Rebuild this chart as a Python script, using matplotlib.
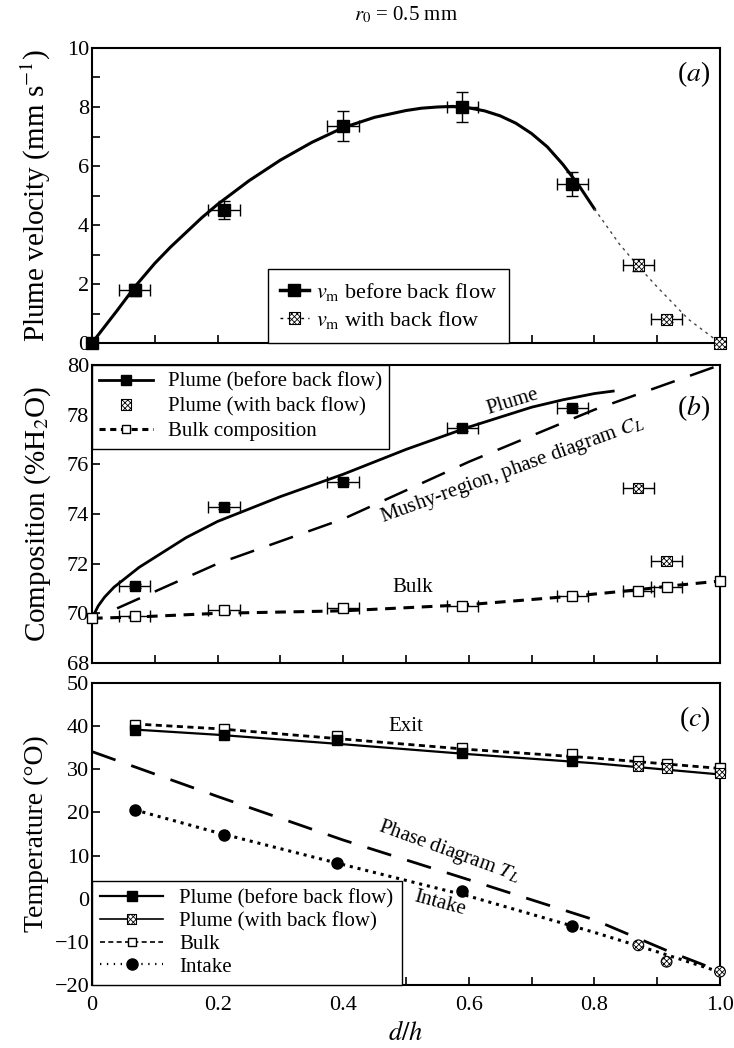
import matplotlib
matplotlib.use('Agg')
import matplotlib.pyplot as plt
from matplotlib.lines import Line2D
from matplotlib.ticker import MultipleLocator
from matplotlib.legend_handler import HandlerTuple

plt.rcParams['font.family'] = 'serif'
plt.rcParams['font.serif'] = ['Liberation Serif', 'DejaVu Serif']
plt.rcParams['mathtext.fontset'] = 'stix'
plt.rcParams['hatch.linewidth'] = 0.6
plt.rcParams['axes.linewidth'] = 1.5

# ---- (a) plume velocity ----
va_x = [0.0, 0.068, 0.21, 0.40, 0.59, 0.765]
va_y = [0.0, 1.8, 4.5, 7.35, 8.0, 5.4]
va_yerr = [0.0, 0.2, 0.3, 0.5, 0.5, 0.4]
va_xerr = [0.0, 0.025, 0.025, 0.025, 0.025, 0.025]
vb_x = [0.87, 0.915, 1.0]
vb_y = [2.65, 0.8, 0.0]
vb_yerr = [0.2, 0.1, 0.0]
vb_xerr = [0.025, 0.025, 0.0]
fit_a_x = [0, 0.02, 0.04, 0.07, 0.1, 0.125, 0.15, 0.175, 0.2, 0.25, 0.3,
           0.35, 0.4, 0.45, 0.5, 0.525, 0.55, 0.575, 0.6, 0.625, 0.65, 0.675,
           0.7, 0.725, 0.75, 0.775, 0.8]
fit_a_y = [0, 0.55, 1.1, 1.95, 2.7, 3.25, 3.75, 4.25, 4.7, 5.5, 6.2,
           6.8, 7.3, 7.65, 7.88, 7.96, 8.0, 8.02, 7.97, 7.87, 7.7, 7.45,
           7.1, 6.65, 6.05, 5.35, 4.55]
fit_a2_x = [0.8, 0.84, 0.87, 0.9, 0.95, 1.0]
fit_a2_y = [4.55, 3.35, 2.6, 1.9, 0.8, 0.0]

# ---- (b) composition ----
cp_x = [0.068, 0.21, 0.40, 0.59, 0.765]
cp_y = [71.1, 74.3, 75.3, 77.45, 78.25]
cpb_x = [0.87, 0.915]
cpb_y = [75.05, 72.1]
cbulk_x = [0.0, 0.068, 0.21, 0.40, 0.59, 0.765, 0.87, 0.915, 1.0]
cbulk_y = [69.82, 69.9, 70.12, 70.2, 70.28, 70.68, 70.9, 71.07, 71.3]
plume_fit_x = [0, 0.01, 0.02, 0.035, 0.05, 0.075, 0.1, 0.15, 0.2, 0.3, 0.4,
               0.5, 0.6, 0.7, 0.75, 0.8, 0.83]
plume_fit_y = [69.8, 70.3, 70.65, 71.05, 71.35, 71.85, 72.25, 73.05, 73.7,
               74.7, 75.6, 76.6, 77.5, 78.3, 78.6, 78.85, 78.95]
mushy_x = [0.04, 0.2, 0.4, 0.6, 0.8, 1.0]
mushy_y = [70.2, 72.0, 73.8, 76.1, 78.2, 80.0]
bulk_fit_x = [0, 0.07, 0.2, 0.4, 0.6, 0.77, 0.87, 0.92, 1.0]
bulk_fit_y = [69.8, 69.85, 70.0, 70.1, 70.35, 70.7, 70.95, 71.1, 71.3]

# ---- (c) temperature ----
tp_x = [0.068, 0.21, 0.39, 0.59, 0.765]
tp_y = [39.2, 38.0, 36.8, 33.8, 32.0]
tpb_x = [0.87, 0.915, 1.0]
tpb_y = [30.8, 30.3, 29.1]
tbulk_x = [0.068, 0.21, 0.39, 0.59, 0.765, 0.87, 0.915, 1.0]
tbulk_y = [40.3, 39.3, 37.8, 35.0, 33.5, 32.0, 31.2, 30.2]
tin_x = [0.068, 0.21, 0.39, 0.59, 0.765]
tin_y = [20.6, 14.8, 8.2, 1.7, -6.3]
tinb_x = [0.87, 0.915, 1.0]
tinb_y = [-10.8, -14.6, -16.9]
exit_fit_x = [0.068, 0.2, 0.4, 0.6, 0.8, 1.0]
exit_fit_y = [39.2, 38.0, 35.8, 33.5, 31.4, 28.8]
bulk_t_fit_x = [0.068, 0.2, 0.4, 0.6, 0.8, 1.0]
bulk_t_fit_y = [40.5, 39.4, 37.0, 34.6, 32.6, 30.2]
intake_fit_x = [0.068, 0.2, 0.4, 0.6, 0.8, 0.9, 1.0]
intake_fit_y = [20.6, 15.3, 7.9, 0.6, -7.8, -12.3, -17.0]
tl_x = [0.0, 0.2, 0.4, 0.6, 0.8, 0.92, 1.0]
tl_y = [34.1, 23.7, 13.6, 4.4, -4.9, -12.3, -16.8]

hatch_kw = dict(marker='s', facecolor='white', edgecolor='k', hatch='xxxxxx',
                linewidths=0.8, zorder=5)
leg_kw = dict(fancybox=False, edgecolor='k', framealpha=1, borderaxespad=0,
              scatterpoints=1, scatteryoffsets=[0.5],
              handler_map={tuple: HandlerTuple(ndivide=1)})

fig = plt.figure(figsize=(7.34, 10.48), dpi=100)
L, W = 0.1253, 0.8556
ax_a = fig.add_axes([L, 0.6727, W, 0.2815])
ax_b = fig.add_axes([L, 0.3674, W, 0.2843])
ax_c = fig.add_axes([L, 0.0601, W, 0.2882])

for ax in (ax_a, ax_b, ax_c):
    ax.set_xlim(0, 1.0)
    ax.xaxis.set_major_locator(MultipleLocator(0.2))
    ax.xaxis.set_minor_locator(MultipleLocator(0.1))
    ax.tick_params(which='both', direction='in', top=False, right=False,
                   length=6, width=1.2, labelsize=16)
    ax.tick_params(axis='y', pad=2)

# (a)
ax_a.plot(fit_a_x, fit_a_y, color='k', lw=2.2)
ax_a.plot(fit_a2_x, fit_a2_y, color='#444444', lw=1.0, ls=(0, (2, 3)))
ax_a.errorbar(va_x, va_y, xerr=va_xerr, yerr=va_yerr, fmt='none', ecolor='k',
              elinewidth=1.0, capsize=4, capthick=1.0)
ax_a.errorbar(vb_x, vb_y, xerr=vb_xerr, yerr=vb_yerr, fmt='none', ecolor='k',
              elinewidth=1.0, capsize=4, capthick=1.0)
ax_a.plot(va_x, va_y, 's', color='k', ms=8, zorder=6, clip_on=False)
sc_a = ax_a.scatter(vb_x, vb_y, s=70, clip_on=False, **hatch_kw)
ax_a.set_ylim(0, 10)
ax_a.yaxis.set_major_locator(MultipleLocator(2))
ax_a.yaxis.set_minor_locator(MultipleLocator(1))
ax_a.tick_params(labelbottom=False)
ax_a.set_ylabel('Plume velocity (mm s$^{-1}$)', fontsize=21, labelpad=10)
ax_a.text(0.985, 0.91, '($a$)', transform=ax_a.transAxes, ha='right',
          va='center', fontsize=20)
fig.text(0.553, 1 - 15 / 1048, '$r_0$ = 0.5 mm', ha='center', va='center',
         fontsize=15)
h_a1 = Line2D([], [], color='k', lw=2.5, marker='s', ms=8)
h_a2 = Line2D([], [], color='k', lw=1.0, ls=(0, (2, 3)))
ax_a.legend([h_a1, (h_a2, sc_a)],
            ['$v_\\mathrm{m}$ before back flow', '$v_\\mathrm{m}$ with back flow'],
            loc='lower left', bbox_to_anchor=(0.28, 0.0), fontsize=16,
            handlelength=1.3, handletextpad=0.3, borderpad=0.55,
            labelspacing=0.25, **leg_kw)

# (b)
ax_b.plot(plume_fit_x, plume_fit_y, color='k', lw=2.0)
ax_b.plot(mushy_x, mushy_y, color='k', lw=1.8, ls=(0, (10, 6.5)))
ax_b.plot(bulk_fit_x, bulk_fit_y, color='k', lw=2.2, ls=(0, (3.5, 2.5)))
ax_b.errorbar(cp_x, cp_y, xerr=0.025, yerr=0.1, fmt='none', ecolor='k',
              elinewidth=1.0, capsize=4)
ax_b.errorbar(cpb_x, cpb_y, xerr=0.025, fmt='none', ecolor='k',
              elinewidth=1.0, capsize=4)
ax_b.errorbar(cbulk_x[1:-1], cbulk_y[1:-1], xerr=0.025, fmt='none', ecolor='k',
              elinewidth=1.0, capsize=4)
ax_b.plot(cp_x, cp_y, 's', color='k', ms=7.5, zorder=6)
sc_b = ax_b.scatter(cpb_x, cpb_y, s=55, **hatch_kw)
ax_b.plot(cbulk_x, cbulk_y, 's', mfc='white', mec='k', mew=1.0, ms=7.5,
          zorder=6, clip_on=False)
ax_b.set_ylim(68, 80)
ax_b.yaxis.set_major_locator(MultipleLocator(2))
ax_b.tick_params(labelbottom=False)
ax_b.set_ylabel('Composition (%H$_2$O)', fontsize=21, labelpad=10)
ax_b.text(0.985, 0.855, '($b$)', transform=ax_b.transAxes, ha='right',
          va='center', fontsize=20)
ax_b.text(0.67, 78.5, 'Plume', rotation=17, ha='center', va='center',
          fontsize=15)
ax_b.text(0.669, 75.77, 'Mushy-region, phase diagram $C_L$', rotation=20,
          ha='center', va='center', fontsize=15)
ax_b.text(0.51, 71.05, 'Bulk', ha='center', va='center', fontsize=15)
h_b1 = Line2D([], [], color='k', lw=2.0, marker='s', ms=7.5)
h_b3 = Line2D([], [], color='k', lw=2.2, ls=(0, (2, 1.5)), marker='s', ms=6,
              mfc='white', mec='k')
ax_b.legend([h_b1, sc_b, h_b3],
            ['Plume (before back flow)', 'Plume (with back flow)',
             'Bulk composition'],
            loc='upper left', fontsize=15, handlelength=2.6,
            handletextpad=0.7, labelspacing=0.25, borderpad=0.35, **leg_kw)

# (c)
ax_c.plot(tl_x, tl_y, color='k', lw=2.0, ls=(0, (9, 6)))
ax_c.plot(exit_fit_x, exit_fit_y, color='k', lw=1.6)
ax_c.plot(bulk_t_fit_x, bulk_t_fit_y, color='k', lw=2.0, ls=(0, (2.2, 1.6)))
ax_c.plot(intake_fit_x, intake_fit_y, color='k', lw=2.2, ls=(0, (1, 1.6)))
ax_c.plot(tbulk_x, tbulk_y, 's', mfc='white', mec='k', mew=1.0, ms=7,
          zorder=5, clip_on=False)
ax_c.plot(tp_x, tp_y, 's', color='k', ms=7, zorder=6)
sc_c1 = ax_c.scatter(tpb_x, tpb_y, s=50, clip_on=False, **hatch_kw)
ax_c.plot(tin_x, tin_y, 'o', color='k', ms=8, zorder=6)
ax_c.scatter(tinb_x, tinb_y, s=60, clip_on=False,
             **dict(hatch_kw, marker='o'))
ax_c.set_ylim(-20, 50)
ax_c.yaxis.set_major_locator(MultipleLocator(10))
ax_c.set_xticks([0, 0.2, 0.4, 0.6, 0.8, 1.0])
ax_c.set_xticklabels(['0', '0.2', '0.4', '0.6', '0.8', '1.0'])
ax_c.tick_params(axis='x', pad=8)
ax_c.set_ylabel('Temperature (°O)', fontsize=20, labelpad=4)
ax_c.set_xlabel('$d/h$', fontsize=19, labelpad=4)
ax_c.text(0.985, 0.88, '($c$)', transform=ax_c.transAxes, ha='right',
          va='center', fontsize=20)
ax_c.text(0.5, 39.8, 'Exit', ha='center', va='center', fontsize=15)
ax_c.text(0.568, 11.0, 'Phase diagram $T_L$', rotation=-20, ha='center',
          va='center', fontsize=15)
ax_c.text(0.554, -1.0, 'Intake', rotation=-15, ha='center', va='center',
          fontsize=15)
h_c1 = Line2D([], [], color='k', lw=1.6, marker='s', ms=7)
h_c2 = Line2D([], [], color='k', lw=1.2)
h_c3 = Line2D([], [], color='k', lw=1.2, ls=(0, (3, 2)), marker='s', ms=6,
              mfc='white', mec='k')
h_c4 = Line2D([], [], color='k', lw=1.6, ls=(0, (0.6, 2.5)), marker='o', ms=8)
ax_c.legend([h_c1, (h_c2, sc_c1), h_c3, h_c4],
            ['Plume (before back flow)', 'Plume (with back flow)', 'Bulk',
             'Intake'],
            loc='lower left', fontsize=15, handlelength=3.0,
            handletextpad=0.8, labelspacing=0.15, borderpad=0.4, **leg_kw)

for ax in (ax_a, ax_b, ax_c):
    ax.get_legend().get_frame().set_linewidth(1.0)

fig.savefig('out.png', dpi=100)
